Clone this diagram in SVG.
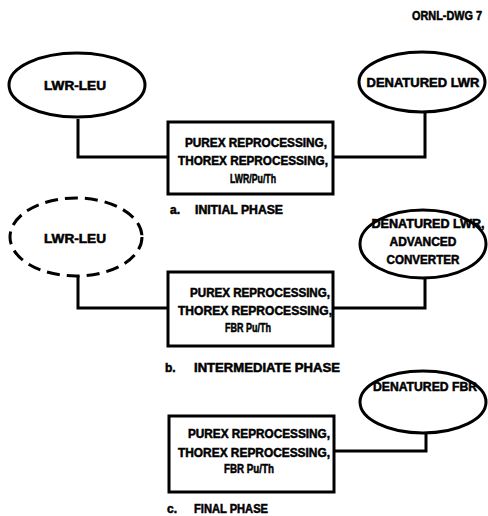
<svg xmlns="http://www.w3.org/2000/svg" width="488" height="516" viewBox="0 0 488 516">
<style>
.n{fill:none;stroke:#000;stroke-width:3}
.d{fill:none;stroke:#000;stroke-width:3;stroke-dasharray:13 7}
.c{fill:none;stroke:#000;stroke-width:3}
text{font-family:"Liberation Sans",Arial,sans-serif;font-weight:bold;font-size:12px;fill:#000;stroke:#000;stroke-width:0.5}
.m{text-anchor:middle}
</style>
<rect width="488" height="516" fill="#fff"/>
<text x="412" y="20" textLength="70" lengthAdjust="spacingAndGlyphs" font-size="10">ORNL-DWG 7</text>
<g id="connectors">
<path class="c" d="M78,119 V157 H168"/>
<path class="c" d="M333,157 H425 V111"/>
<path class="c" d="M78,276 V308 H168"/>
<path class="c" d="M333,308 H425 V277"/>
<path class="c" d="M334,451 H426 V433"/>
</g>
<g id="lwr-leu-a">
<ellipse class="n" cx="77" cy="85" rx="68" ry="32"/>
<text class="m" x="75" y="90" textLength="62" lengthAdjust="spacingAndGlyphs">LWR-LEU</text>
</g>
<g id="denatured-lwr-a">
<ellipse class="n" cx="422" cy="82" rx="63" ry="30"/>
<text class="m" x="423" y="87" textLength="113" lengthAdjust="spacingAndGlyphs">DENATURED LWR</text>
</g>
<g id="reproc-a">
<rect class="n" x="168" y="122" width="165" height="72"/>
<text class="m" x="256" y="147" textLength="142" lengthAdjust="spacingAndGlyphs">PUREX REPROCESSING,</text>
<text class="m" x="253" y="165" textLength="150" lengthAdjust="spacingAndGlyphs">THOREX REPROCESSING,</text>
<text class="m" x="253" y="183" textLength="46" lengthAdjust="spacingAndGlyphs">LWR/Pu/Th</text>
</g>
<g id="label-a">
<text x="170" y="214">a.</text>
<text x="195" y="214" textLength="88" lengthAdjust="spacingAndGlyphs">INITIAL PHASE</text>
</g>
<g id="lwr-leu-b">
<ellipse class="d" cx="76" cy="237" rx="66" ry="39"/>
<text class="m" x="75" y="243" textLength="62" lengthAdjust="spacingAndGlyphs">LWR-LEU</text>
</g>
<g id="denatured-lwr-adv-b">
<ellipse class="n" cx="423" cy="244" rx="63" ry="34"/>
<text class="m" x="428" y="228" textLength="113" lengthAdjust="spacingAndGlyphs">DENATURED LWR,</text>
<text class="m" x="423" y="246" textLength="67" lengthAdjust="spacingAndGlyphs">ADVANCED</text>
<text class="m" x="423" y="264" textLength="73" lengthAdjust="spacingAndGlyphs">CONVERTER</text>
</g>
<g id="reproc-b">
<rect class="n" x="168" y="272" width="165" height="74"/>
<text class="m" x="260" y="297" textLength="140" lengthAdjust="spacingAndGlyphs">PUREX REPROCESSING,</text>
<text class="m" x="255" y="315" textLength="154" lengthAdjust="spacingAndGlyphs">THOREX REPROCESSING,</text>
<text class="m" x="248" y="332" textLength="46" lengthAdjust="spacingAndGlyphs">FBR Pu/Th</text>
</g>
<g id="label-b">
<text x="165" y="372">b.</text>
<text x="194" y="372" textLength="146" lengthAdjust="spacingAndGlyphs">INTERMEDIATE PHASE</text>
</g>
<g id="denatured-fbr-c">
<ellipse class="n" cx="423" cy="402" rx="63" ry="31"/>
<text class="m" x="425" y="391" textLength="104" lengthAdjust="spacingAndGlyphs">DENATURED FBR</text>
</g>
<g id="reproc-c">
<rect class="n" x="169" y="416" width="165" height="76"/>
<text class="m" x="259" y="438" textLength="142" lengthAdjust="spacingAndGlyphs">PUREX REPROCESSING,</text>
<text class="m" x="254" y="457" textLength="152" lengthAdjust="spacingAndGlyphs">THOREX REPROCESSING,</text>
<text class="m" x="249" y="473" textLength="50" lengthAdjust="spacingAndGlyphs">FBR Pu/Th</text>
</g>
<g id="label-c">
<text x="167" y="513">c.</text>
<text x="194" y="513" textLength="74" lengthAdjust="spacingAndGlyphs">FINAL PHASE</text>
</g>
</svg>
